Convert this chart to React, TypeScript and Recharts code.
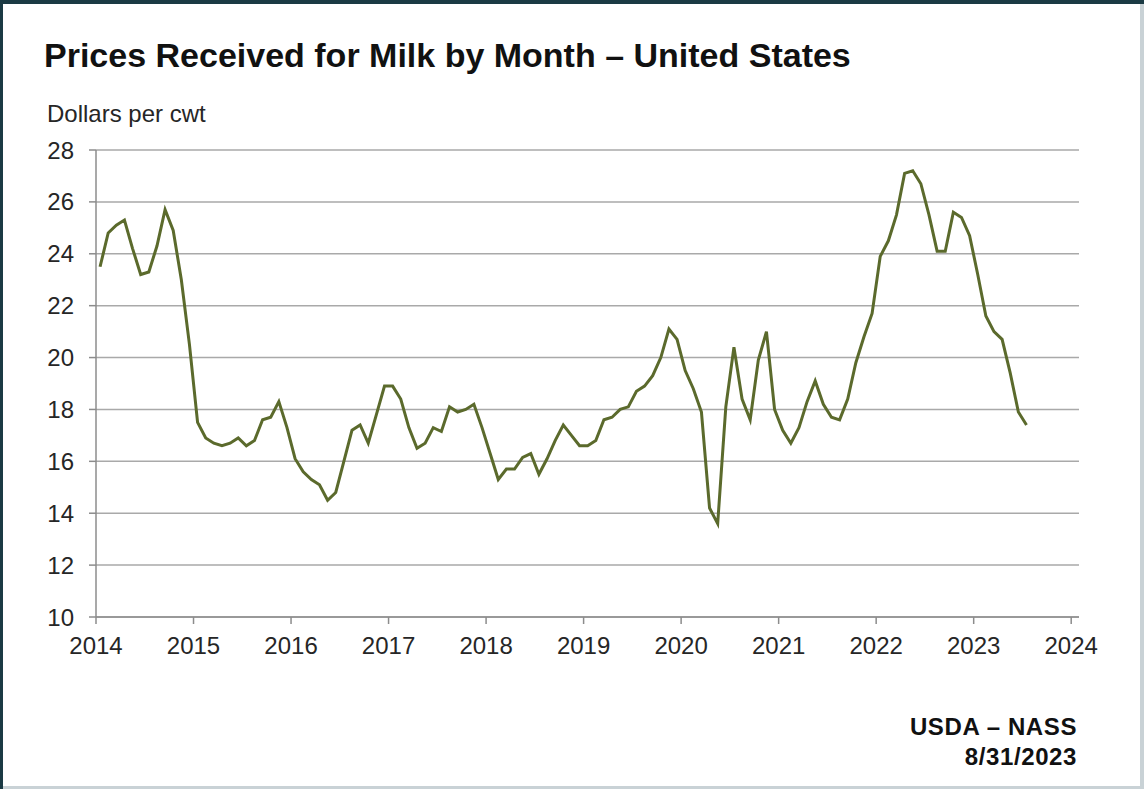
import { LineChart, Line, XAxis, YAxis, CartesianGrid } from "recharts"

// all-milk price, dollars per cwt, Jan..Dec
const prices2014 = [23.5, 24.8, 25.1, 25.3, 24.2, 23.2, 23.3, 24.3, 25.7, 24.9, 23.0, 20.5]
const prices2015 = [17.5, 16.9, 16.7, 16.6, 16.7, 16.9, 16.6, 16.8, 17.6, 17.7, 18.3, 17.3]
const prices2016 = [16.1, 15.6, 15.3, 15.1, 14.5, 14.8, 16.0, 17.2, 17.4, 16.7, 17.8, 18.9]
const prices2017 = [18.9, 18.4, 17.3, 16.5, 16.7, 17.3, 17.15, 18.1, 17.9, 18.0, 18.2, 17.3]
const prices2018 = [16.3, 15.3, 15.7, 15.7, 16.15, 16.3, 15.5, 16.1, 16.8, 17.4, 17.0, 16.6]
const prices2019 = [16.6, 16.8, 17.6, 17.7, 18.0, 18.1, 18.7, 18.9, 19.3, 20.0, 21.1, 20.7]
const prices2020 = [19.5, 18.8, 17.9, 14.2, 13.6, 18.1, 20.4, 18.4, 17.6, 19.9, 21.0, 18.0]
const prices2021 = [17.2, 16.7, 17.3, 18.3, 19.1, 18.2, 17.7, 17.6, 18.4, 19.8, 20.8, 21.7]
const prices2022 = [23.9, 24.5, 25.5, 27.1, 27.2, 26.7, 25.5, 24.1, 24.1, 25.6, 25.4, 24.7]
const prices2023 = [23.2, 21.6, 21.0, 20.7, 19.4, 17.9, 17.4]

const years = [2014, 2015, 2016, 2017, 2018, 2019, 2020, 2021, 2022, 2023, 2024]
const priceTicks = [10, 12, 14, 16, 18, 20, 22, 24, 26, 28]

const byYear = [prices2014, prices2015, prices2016, prices2017, prices2018, prices2019, prices2020, prices2021, prices2022, prices2023]

// points sit at mid-month on a continuous year axis
const data = byYear.flatMap((vals, i) =>
  vals.map((price, m) => ({ t: years[i] + (m + 0.5) / 12, price }))
)

const font = '"Liberation Sans", Arial, sans-serif'
const tickStyle = { fill: "#262626", fontSize: 24, fontFamily: font }

export default function App() {
  return (
    <div style={{ position: "fixed", left: 0, top: 0, width: 1144, height: 789, background: "#1b3a44" }}>
      <div style={{ position: "absolute", left: 3, top: 4, width: 1141, height: 785, background: "#c9d2d6" }} />
      <div style={{ position: "absolute", left: 3, top: 4, width: 1137, height: 782, background: "#fff" }} />
      <div style={{ position: "absolute", left: 0, top: 0 }}>
        <LineChart
          width={1144}
          height={789}
          data={data}
          margin={{ top: 150, right: 65, left: 0, bottom: 132 }}
          style={{ fontFamily: font }}
        >
          <CartesianGrid vertical={false} stroke="#a9a9a9" strokeWidth={1.5} />
          <XAxis
            dataKey="t"
            type="number"
            domain={[2014, 2024.08]}
            ticks={years}
            allowDataOverflow
            height={40}
            tickSize={7}
            tickMargin={13}
            stroke="#8c8c8c"
            strokeWidth={1.5}
            tick={tickStyle}
            tickFormatter={(v) => String(Math.round(v))}
          />
          <YAxis
            domain={[10, 28]}
            ticks={priceTicks}
            width={96}
            tickSize={7}
            tickMargin={15}
            stroke="#8c8c8c"
            strokeWidth={1.5}
            tick={tickStyle}
          />
          <Line
            type="linear"
            dataKey="price"
            stroke="#5b6a2c"
            strokeWidth={3}
            dot={false}
            isAnimationActive={false}
          />
        </LineChart>
      </div>
      <div style={{ position: "absolute", left: 44, top: 38, fontFamily: font, fontWeight: "bold", fontSize: 34, lineHeight: 1, color: "#111", whiteSpace: "nowrap" }}>
        Prices Received for Milk by Month – United States
      </div>
      <div style={{ position: "absolute", left: 47, top: 102, fontFamily: font, fontSize: 24, lineHeight: 1, color: "#262626", whiteSpace: "nowrap" }}>
        Dollars per cwt
      </div>
      <div style={{ position: "absolute", right: 67, top: 712, fontFamily: font, fontWeight: "bold", fontSize: 24, letterSpacing: 0.6, lineHeight: "30px", color: "#111", textAlign: "right", whiteSpace: "nowrap" }}>
        <div>USDA – NASS</div>
        <div>8/31/2023</div>
      </div>
    </div>
  )
}
